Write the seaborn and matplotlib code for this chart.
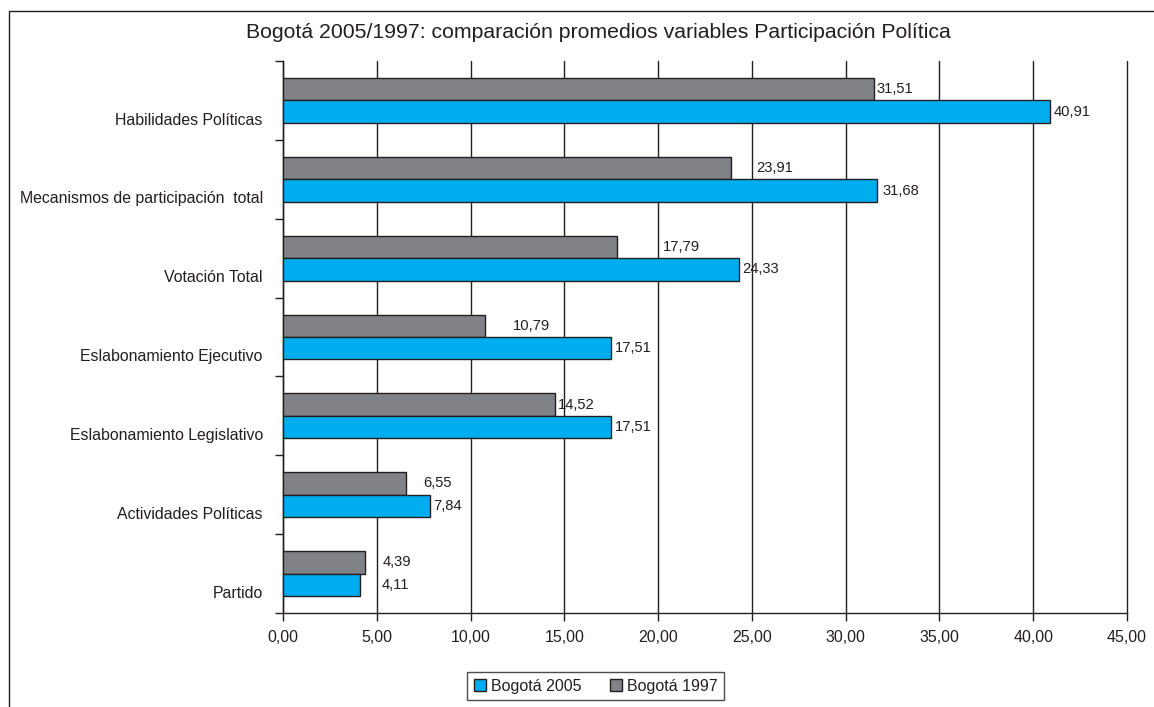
import matplotlib
matplotlib.use('Agg')
import matplotlib.pyplot as plt
import seaborn as sns
import pandas as pd
from matplotlib.patches import Rectangle, Patch

categories = ["Habilidades Políticas", "Mecanismos de participación  total", "Votación Total",
              "Eslabonamiento Ejecutivo", "Eslabonamiento Legislativo", "Actividades Políticas", "Partido"]
values_2005 = [40.91, 31.68, 24.33, 17.51, 17.51, 7.84, 4.11]
values_1997 = [31.51, 23.91, 17.79, 10.79, 14.52, 6.55, 4.39]
series = ["Bogotá 2005", "Bogotá 1997"]
x_ticks = [0, 5, 10, 15, 20, 25, 30, 35, 40, 45]
title = "Bogotá 2005/1997: comparación promedios variables Participación Política"

# layout: gap (px) between bar end and its value label, as placed in the original
label_gap_1997 = [3, 25, 46, 28, 3, 17, 17]
label_gap_2005 = [3, 5, 3, 3, 3, 3, 22]

sns.set_theme(style='white')
plt.rcParams['font.family'] = ['Liberation Sans', 'DejaVu Sans']

INK = '#231F20'
colors = {series[0]: '#00AEEF', series[1]: '#808285'}

df = pd.DataFrame({
    'Categoría': categories * 2,
    'Valor': values_1997 + values_2005,
    'Serie': [series[1]] * len(categories) + [series[0]] * len(categories),
})

W, H = 1154, 707
fig = plt.figure(figsize=(W / 100, H / 100), dpi=100)
ax = fig.add_axes([283 / W, 1 - 613 / H, (1127 - 283) / W, (613 - 61) / H])

sns.barplot(data=df, y='Categoría', x='Valor', hue='Serie', hue_order=[series[1], series[0]],
            order=categories, palette=colors, saturation=1, width=0.57, gap=0,
            edgecolor=INK, linewidth=1, orient='h', ax=ax, legend=False, zorder=3)

n = len(categories)
ax.set_xlim(0, 45)
ax.set_ylim(n - 0.5, -0.5)
ax.set_xticks(x_ticks)
ax.set_xticklabels([f"{t:.2f}".replace('.', ',') for t in x_ticks], fontsize=11.5, color=INK)
ax.set_yticks([i - 0.5 for i in range(n + 1)])
ax.set_yticklabels([''] * (n + 1))
ax.set_yticks([i + 0.23 for i in range(n)], minor=True)
ax.set_yticklabels(categories, minor=True, fontsize=11.4, color=INK)
ax.tick_params(axis='y', which='major', direction='out', length=6, width=1, color=INK, left=True)
ax.tick_params(axis='y', which='minor', length=0, pad=14.5)
ax.tick_params(axis='x', which='major', direction='out', length=6, width=1, color=INK, bottom=True, pad=6)
ax.set_xlabel('')
ax.set_ylabel('')

ax.xaxis.grid(True, color=INK, lw=1)
ax.yaxis.grid(False)
for gl in ax.get_xgridlines():
    gl.set_clip_on(False)
ax.set_axisbelow(True)
for s in ['top', 'right']:
    ax.spines[s].set_visible(False)
for s in ['left', 'bottom']:
    ax.spines[s].set_color(INK)
    ax.spines[s].set_linewidth(1)

gaps = [label_gap_1997, label_gap_2005]
for cont, gap_list in zip(ax.containers, gaps):
    for bar, g in zip(cont, gap_list):
        v = bar.get_width()
        ax.annotate(f"{v:.2f}".replace('.', ','),
                    xy=(v, bar.get_y() + bar.get_height() / 2),
                    xytext=(g * 0.72, 0), textcoords='offset points',
                    ha='left', va='center', fontsize=10.6, color=INK, zorder=5)

fig.text(598 / W, 1 - 33 / H, title, ha='center', va='center', fontsize=15.3, color=INK)

handles = [Patch(facecolor=colors[s], edgecolor=INK, linewidth=1) for s in series]
leg = fig.legend(handles=handles, labels=series, loc='center', bbox_to_anchor=(595.5 / W, 1 - 686 / H),
                 ncol=2, frameon=True, fancybox=False, edgecolor=INK, fontsize=11.5,
                 handlelength=0.75, handleheight=0.75, handletextpad=0.3, columnspacing=1.8,
                 borderpad=0.4)
leg.get_frame().set_linewidth(1)
for t in leg.get_texts():
    t.set_color(INK)

fig.patches.append(Rectangle((9 / W, -0.05), 1.2, 1 - 11 / H + 0.05, transform=fig.transFigure,
                             fill=False, edgecolor=INK, linewidth=1))

fig.savefig('out.png', dpi=100)
